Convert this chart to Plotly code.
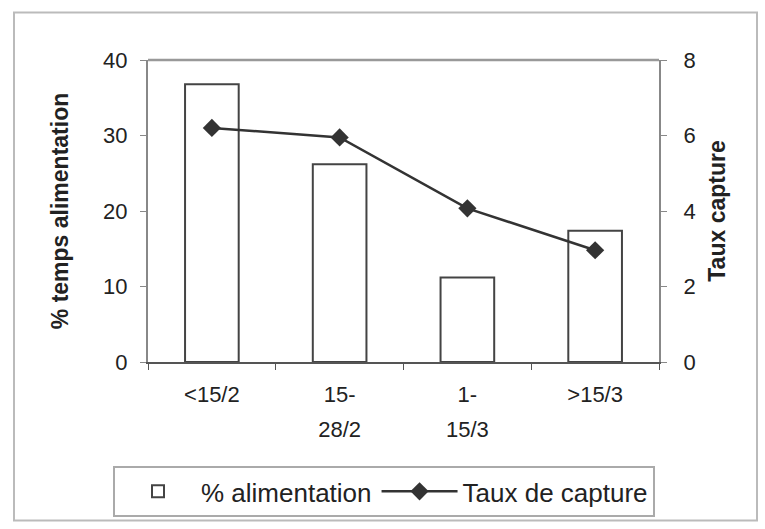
import plotly.graph_objects as go

categories = ["<15/2", "15-28/2", "1-15/3", ">15/3"]
tick_line1 = ["<15/2", "15-", "1-", ">15/3"]
tick_line2 = ["", "28/2", "15/3", ""]
alimentation = [36.8, 26.2, 11.2, 17.4]
taux_capture = [6.2, 5.95, 4.07, 2.96]

FONT = "Liberation Sans, Arial, sans-serif"

fig = go.Figure()
fig.add_trace(go.Bar(
    x=categories, y=alimentation, name="% alimentation",
    marker=dict(color="white", line=dict(color="#444444", width=2)),
    width=0.42, yaxis="y",
))
fig.add_trace(go.Scatter(
    x=categories, y=taux_capture, name="Taux de capture",
    mode="lines+markers", yaxis="y2",
    line=dict(color="#333333", width=2.5),
    marker=dict(symbol="diamond", size=14, color="#333333"),
))
# invisible carrier so that the second-line tick axis is drawn
fig.add_trace(go.Scatter(
    x=categories, y=alimentation, xaxis="x2", yaxis="y",
    mode="markers", marker=dict(opacity=0), showlegend=False, hoverinfo="skip",
))

W0, W1 = 148, 659
H0, H1 = 60, 365
def px(x):
    return (x - W0) / (W1 - W0)
def py(y):
    return (H1 - y) / (H1 - H0)

fig.update_layout(
    width=765, height=529,
    margin=dict(l=148, r=106, t=60, b=164),
    paper_bgcolor="white", plot_bgcolor="white",
    font=dict(family=FONT, size=22, color="#222222"),
    showlegend=True,
    legend=dict(
        orientation="h", x=px(113), xanchor="left", y=py(470), yanchor="top",
        bordercolor="#aaaaaa", borderwidth=2, bgcolor="white",
        font=dict(size=26, color="#222222"), itemwidth=76,
    ),
    xaxis=dict(
        type="category", range=[-0.5, 3.5],
        categoryorder="array", categoryarray=categories,
        tickmode="array", tickvals=categories, ticktext=tick_line1,
        showline=True, linecolor="#555555", linewidth=2,
        ticks="outside", tickson="boundaries", ticklen=6, tickcolor="#555555",
        showgrid=False, zeroline=False, ticklabelstandoff=12,
        tickfont=dict(size=22),
    ),
    xaxis2=dict(
        type="category", range=[-0.5, 3.5], overlaying="x", side="bottom",
        anchor="y", categoryorder="array", categoryarray=categories,
        tickmode="array", tickvals=categories, ticktext=tick_line2,
        showline=False, ticks="", showgrid=False, zeroline=False,
        ticklabelstandoff=52, tickfont=dict(size=22),
    ),
    yaxis=dict(
        range=[0, 40], dtick=10, showline=True, linecolor="#888888", linewidth=2,
        ticks="outside", ticklen=6, tickcolor="#888888",
        showgrid=False, zeroline=False, ticklabelstandoff=8,
        title=dict(text="<b>% temps alimentation</b>", font=dict(size=23), standoff=28),
    ),
    yaxis2=dict(
        range=[0, 8], dtick=2, overlaying="y", side="right",
        showline=True, linecolor="#888888", linewidth=2,
        ticks="outside", ticklen=6, tickcolor="#888888",
        showgrid=False, zeroline=False, ticklabelstandoff=12,
        title=dict(text="<b>Taux capture</b>", font=dict(size=23), standoff=14),
    ),
    shapes=[
        dict(type="line", xref="paper", yref="paper", x0=0, x1=1, y0=1, y1=1,
             line=dict(color="#999999", width=2.5)),
        dict(type="rect", xref="paper", yref="paper",
             x0=px(14), x1=px(757), y0=py(12), y1=py(525),
             line=dict(color="#bbbbbb", width=2)),
    ],
)

fig.write_html("out.html")
